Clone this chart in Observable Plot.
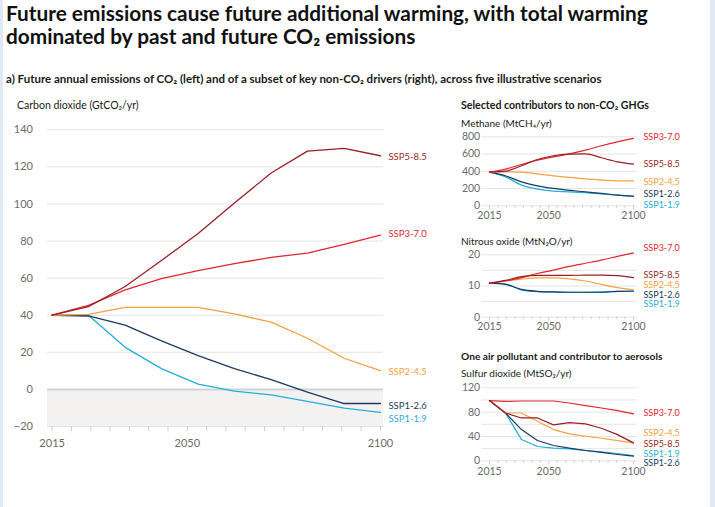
<!DOCTYPE html>
<html>
<head>
<meta charset="utf-8">
<script src="https://cdn.jsdelivr.net/npm/d3@7"></script>
<script src="https://cdn.jsdelivr.net/npm/@observablehq/plot@0.6"></script>
<style>
  html, body { margin: 0; padding: 0; background: #fff; }
  #page { position: relative; width: 715px; height: 507px; overflow: hidden; background: #fff; font-family: Lato, "Noto Sans", sans-serif; }
  .band { position: absolute; top: 0; height: 507px; background: #dfe8f4; }
  .txt { position: absolute; white-space: nowrap; color: #1a1a1a; }
  .title { left: 6px; top: 1px; font-size: 20.8px; line-height: 23px; font-weight: 700; color: #111; }
  .sub { left: 6px; font-size: 11.5px; font-weight: 700; line-height: 14px; }
  .unit { font-size: 10.5px; line-height: 14px; }
  .unit-s { font-size: 10px; line-height: 14px; }
  .head { font-size: 10.6px; font-weight: 700; line-height: 14px; }
  .chart { position: absolute; }
</style>
</head>
<body>
<div id="page">
  <div class="band" style="left:0;width:3px"></div>
  <div class="band" style="left:710px;width:5px"></div>

  <div class="txt title">Future emissions cause future additional warming, with total warming<br>dominated by past and future CO₂ emissions</div>
  <div class="txt sub" style="top:72px">a) Future annual emissions of CO₂ (left) and of a subset of key non-CO₂ drivers (right), across five illustrative scenarios</div>

  <div class="txt unit" style="left:17px;top:98px">Carbon dioxide (GtCO₂/yr)</div>

  <div class="txt head" style="left:461px;top:98px">Selected contributors to non-CO₂ GHGs</div>
  <div class="txt unit-s" style="left:461px;top:115.5px">Methane (MtCH₄/yr)</div>
  <div class="txt unit-s" style="left:461px;top:234px">Nitrous oxide (MtN₂O/yr)</div>
  <div class="txt head" style="left:461px;top:349px;font-size:10.2px">One air pollutant and contributor to aerosols</div>
  <div class="txt unit-s" style="left:461px;top:366px">Sulfur dioxide (MtSO₂/yr)</div>

  <div id="co2" class="chart" style="left:0;top:110px"></div>
  <div id="ch4" class="chart" style="left:440px;top:128px"></div>
  <div id="n2o" class="chart" style="left:440px;top:245px"></div>
  <div id="so2" class="chart" style="left:440px;top:378px"></div>
</div>

<script>
// Five illustrative scenarios and their colours
const scenarios = ["SSP1-1.9", "SSP1-2.6", "SSP2-4.5", "SSP3-7.0", "SSP5-8.5"];
const scenarioColors = ["#1fb0d9", "#1b3a61", "#f7a03e", "#e3262d", "#981f26"];

// Time steps of the series
const years = [2015, 2024.4, 2033.9, 2043.3, 2052.8, 2062.2, 2071.7, 2081.1, 2090.6, 2100];

// Carbon dioxide (GtCO2/yr)
const co2_119 = [40, 40, 22.7, 11.2, 2.8, -0.9, -3, -6.5, -10.1, -12.4];
const co2_126 = [40, 39.6, 34.7, 26.2, 18.2, 11.2, 5.3, -1.5, -7.6, -7.6];
const co2_245 = [40, 40.5, 44.2, 44.2, 44.2, 40.7, 36.3, 27.6, 16.8, 10.1];
const co2_370 = [40, 45.3, 53.7, 59.7, 64, 67.8, 71.2, 73.5, 78.2, 83.2];
const co2_585 = [40, 44.6, 55.5, 69.5, 84.1, 100.5, 116.7, 128.5, 130, 126];

// Methane (MtCH4/yr)
const ch4_119 = [390, 336, 240, 193, 170, 162, 151, 139, 124, 108];
const ch4_126 = [390, 348, 278, 232, 201, 178, 162, 143, 124, 112];
const ch4_245 = [390, 394, 390, 371, 348, 329, 313, 298, 290, 290];
const ch4_370 = [390, 425, 479, 530, 568, 603, 645, 696, 742, 781];
const ch4_585 = [390, 402, 464, 537, 580, 599, 603, 557, 510, 483];

// Nitrous oxide (MtN2O/yr)
const n2o_119 = [10.9, 10.7, 8.7, 8.2, 8.1, 8.0, 8.0, 8.1, 8.3, 8.3];
const n2o_126 = [10.9, 10.5, 8.9, 8.3, 8.1, 8.0, 8.0, 8.0, 8.3, 8.4];
const n2o_245 = [10.9, 11.6, 12.2, 12.6, 12.6, 12.3, 11.6, 10.5, 9.5, 8.8];
const n2o_370 = [10.9, 11.6, 12.7, 14.0, 15.1, 16.3, 17.3, 18.3, 19.5, 20.6];
const n2o_585 = [10.9, 11.8, 13.0, 13.4, 13.4, 13.4, 13.5, 13.5, 13.3, 12.7];

// Sulfur dioxide (MtSO2/yr)
const so2_119 = [99, 78.6, 34.9, 23.5, 20.7, 19.7, 16.9, 14.7, 12, 8.7];
const so2_126 = [99, 78.6, 51.3, 33.3, 25.1, 20.7, 16.9, 13.7, 10.4, 7.6];
const so2_245 = [99, 78.6, 78.6, 65, 51.3, 44.2, 40.4, 37.1, 33.3, 29.5];
const so2_370 = [99, 97.7, 98.3, 98.3, 98.3, 95, 90.6, 86.8, 82.4, 77];
const so2_585 = [99, 78.6, 70.4, 70.4, 59, 62.8, 60.6, 53.5, 43, 29.5];

// Axis ticks
const xTicks = [2015, 2020, 2025, 2030, 2035, 2040, 2045, 2050, 2055, 2060, 2065, 2070, 2075, 2080, 2085, 2090, 2095, 2100];
const xLabels = [2015, 2050, 2100];
const co2Ticks = [-20, 0, 20, 40, 60, 80, 100, 120, 140];
const ch4Ticks = [0, 200, 400, 600, 800];
const n2oGrid = [0, 5, 10, 15, 20];
const n2oTicks = [0, 10, 20];
const so2Grid = [0, 20, 40, 60, 80, 100, 120];
const so2Ticks = [0, 40, 80, 120];

function toRows(series) {
  return scenarios.flatMap((s, i) =>
    years.map((yr, j) => ({scenario: s, year: yr, value: series[i][j]})));
}

const tickColor = "#6b6b6b";
const color = {domain: scenarios, range: scenarioColors};

// End-of-line scenario labels, nudged apart where lines end close together
function endLabels(rows, nudges, dx, fontSize) {
  return scenarios.map((s, i) =>
    Plot.text(rows.filter(d => d.scenario === s), Plot.selectLast({
      x: "year", y: "value", text: "scenario", fill: "scenario",
      dx, dy: nudges[i], textAnchor: "start", fontSize
    })));
}

// Left panel: carbon dioxide
{
  const rows = toRows([co2_119, co2_126, co2_245, co2_370, co2_585]);
  const xDomain = [2013.8, 2100.8];
  const chart = Plot.plot({
    width: 430, height: 345,
    marginLeft: 47, marginRight: 47, marginTop: 19.3, marginBottom: 29,
    x: {domain: xDomain},
    y: {domain: [-20, 140]},
    color,
    style: {fontFamily: "Lato, sans-serif", fontSize: "11px", color: tickColor, overflow: "visible"},
    marks: [
      Plot.rect([0], {x1: () => xDomain[0], x2: () => xDomain[1], y1: () => -20, y2: () => 0, fill: "#f3f2f0"}),
      Plot.gridY(co2Ticks.filter(v => v !== 0), {stroke: "#e4e4e4", strokeOpacity: 1}),
      Plot.ruleY([0], {stroke: "#d2d2d2", strokeWidth: 2}),
      Plot.axisY({ticks: co2Ticks, tickSize: 0, tickPadding: 14.5, fill: tickColor, label: null}),
      Plot.axisX({ticks: xTicks, tickFormat: d => xLabels.includes(d) ? String(d) : "",
                  tickSize: 5, tickPadding: 8, stroke: "#cfcfcf", fill: tickColor, label: null}),
      Plot.line(rows, {x: "year", y: "value", z: "scenario", stroke: "scenario", strokeWidth: 1.3}),
      ...endLabels(rows, [7, 2, 1, -1, 1], 8, 9.5)
    ]
  });
  document.getElementById("co2").append(chart);
}

// Right panels: methane, nitrous oxide, sulfur dioxide
function smallPanel({el, series, yDomain, grid, ticks, height, marginTop, plotHeight, nudges, curve, labelPad}) {
  const rows = toRows(series);
  const chart = Plot.plot({
    width: 275, height,
    marginLeft: 41.7, marginRight: 78.3, marginTop, marginBottom: height - marginTop - plotHeight,
    x: {domain: [2010.7, 2102.2]},
    y: {domain: yDomain},
    color,
    style: {fontFamily: "Lato, sans-serif", fontSize: "10.5px", color: tickColor, overflow: "visible"},
    marks: [
      Plot.gridY(grid, {stroke: "#e4e4e4", strokeOpacity: 1}),
      Plot.axisY({ticks, tickSize: 0, tickPadding: 2, fill: tickColor, label: null}),
      Plot.axisX({ticks: xTicks.filter(d => !xLabels.includes(d)), tickFormat: () => "",
                  tickSize: 2.5, stroke: "#cfcfcf", label: null}),
      Plot.axisX({ticks: xLabels, tickFormat: d => String(d), tickSize: 4, tickPadding: labelPad,
                  stroke: "#cfcfcf", fill: tickColor, label: null}),
      Plot.line(rows, {x: "year", y: "value", z: "scenario", stroke: "scenario", strokeWidth: 1.2, curve}),
      ...endLabels(rows, nudges, 10, 9)
    ]
  });
  document.getElementById(el).append(chart);
}

smallPanel({
  el: "ch4", series: [ch4_119, ch4_126, ch4_245, ch4_370, ch4_585],
  yDomain: [0, 800], grid: ch4Ticks, ticks: ch4Ticks,
  height: 95, marginTop: 8.3, plotHeight: 69,
  nudges: [8.5, -1.8, 1, -1, 0], curve: "monotone-x", labelPad: 1.5
});

smallPanel({
  el: "n2o", series: [n2o_119, n2o_126, n2o_245, n2o_370, n2o_585],
  yDomain: [0, 20], grid: n2oGrid, ticks: n2oTicks,
  height: 95, marginTop: 9.3, plotHeight: 62.4,
  nudges: [13.2, 4, -4.7, -4.7, -2.1], curve: "monotone-x", labelPad: 1.6
});

smallPanel({
  el: "so2", series: [so2_119, so2_126, so2_245, so2_370, so2_585],
  yDomain: [0, 120], grid: so2Grid, ticks: so2Ticks,
  height: 105, marginTop: 9.3, plotHeight: 73,
  nudges: [-1.5, 7.3, -9.4, -0.8, 1.1], curve: "linear", labelPad: 2.8
});
</script>
</body>
</html>
